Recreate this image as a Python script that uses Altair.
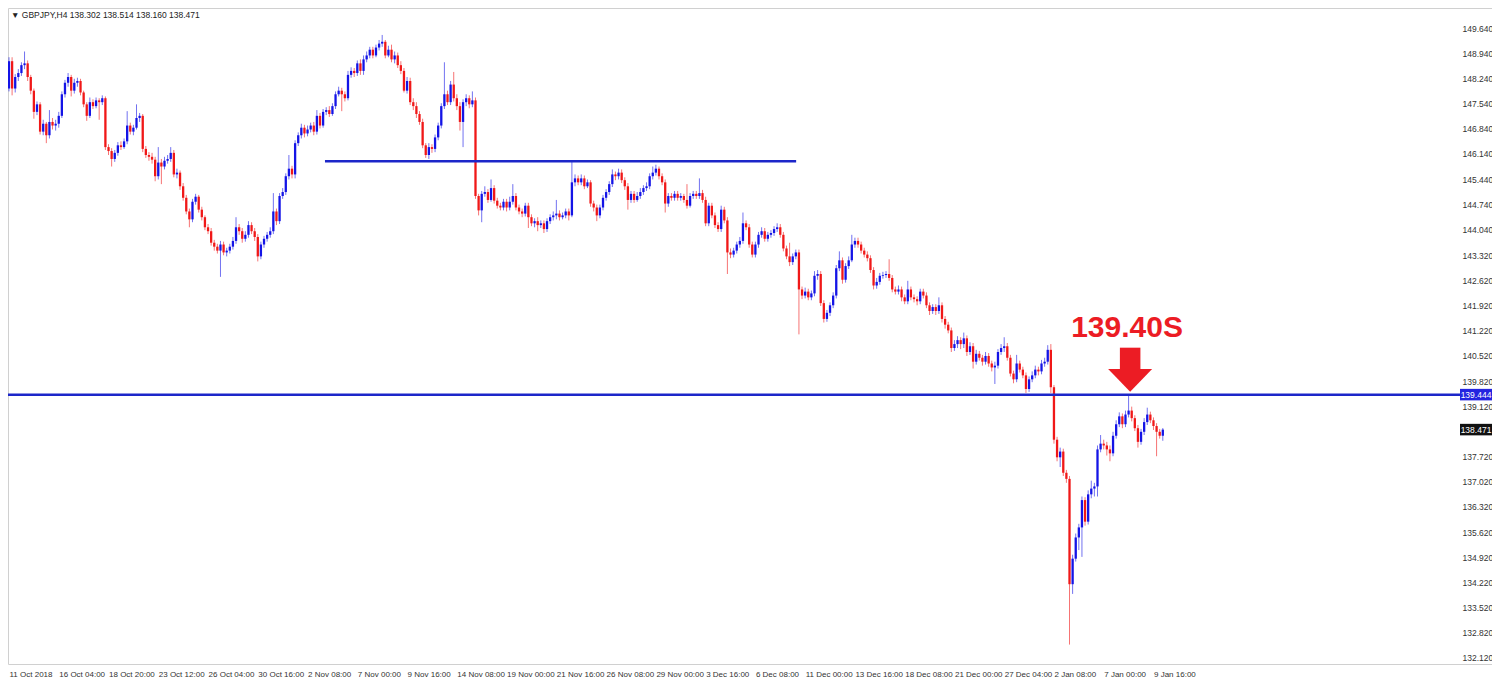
import altair as alt
import pandas as pd
import numpy as np

HEADER = "\u25BC GBPJPY,H4  138.302 138.514 138.160 138.471"
FIRST_OPEN = 147.96

CLOSES = [
148.72,147.96,148.28,148.39,148.61,148.66,148.28,147.90,147.31,147.52,
146.76,146.98,146.66,147.03,146.93,146.98,147.20,147.80,148.12,148.28,
147.90,148.12,148.17,147.85,147.52,147.20,147.58,147.47,147.63,147.58,
147.69,146.33,146.22,146.00,146.17,146.38,146.33,146.49,146.93,146.76,
146.87,147.14,147.20,146.28,146.11,146.06,145.98,145.52,145.90,145.79,
145.95,146.00,146.17,145.57,145.62,145.24,144.92,144.54,144.32,144.81,
144.95,144.59,144.38,144.10,143.99,143.67,143.56,143.45,143.62,143.40,
143.45,143.56,143.72,144.10,143.99,143.78,143.89,144.16,143.99,143.83,
143.29,143.62,143.78,143.89,143.99,144.54,144.27,144.97,145.08,145.52,
145.73,145.57,146.44,146.66,146.87,146.71,146.82,146.93,146.76,147.20,
146.93,147.31,147.36,147.25,147.47,147.80,147.90,147.80,147.69,148.34,
148.45,148.39,148.66,148.45,148.77,148.88,149.04,148.88,149.10,149.21,
149.26,148.88,149.04,148.77,148.88,148.61,148.45,147.90,148.17,147.58,
147.47,147.25,147.03,146.38,146.11,146.33,146.28,146.60,146.93,147.47,
147.80,147.58,148.07,147.69,147.47,147.03,147.58,147.69,147.52,147.63,
144.97,144.57,145.03,145.08,144.86,145.19,144.84,144.70,144.65,144.81,
144.65,144.81,144.97,144.65,144.54,144.48,144.70,144.38,144.21,144.27,
144.16,144.21,144.05,144.27,144.38,144.43,144.48,144.38,144.43,144.54,
144.43,145.35,145.46,145.35,145.46,145.24,145.35,144.76,144.65,144.43,
144.65,144.92,145.08,145.30,145.57,145.52,145.62,145.41,145.24,144.86,
145.03,144.86,144.97,145.08,145.19,145.24,145.52,145.62,145.73,145.52,
145.35,144.76,144.97,144.92,145.03,144.92,144.97,144.86,144.70,144.97,
145.03,144.97,145.05,144.86,144.21,144.70,144.43,144.16,144.05,144.59,
144.29,143.40,143.34,143.45,143.62,143.72,144.21,144.10,143.62,143.34,
143.62,143.89,143.99,143.78,143.89,143.94,144.05,144.10,143.89,143.51,
143.29,143.13,143.29,143.40,142.37,142.20,142.31,142.15,142.26,142.75,
142.80,141.99,141.55,141.72,141.93,142.20,142.96,143.18,142.64,143.02,
143.18,143.62,143.72,143.62,143.45,143.34,143.24,142.91,142.48,142.58,
142.75,142.77,142.80,142.69,142.37,142.31,142.37,142.15,142.04,142.37,
142.15,142.10,142.04,142.31,142.20,141.93,141.77,141.88,141.77,141.93,
141.55,141.39,141.23,140.74,140.85,140.96,140.85,141.01,140.63,140.79,
140.36,140.58,140.47,140.36,140.52,140.31,140.20,140.25,140.63,140.74,
140.79,140.47,140.03,139.87,140.31,140.14,139.98,139.60,139.87,139.98,
140.14,140.09,140.31,140.36,140.69,139.65,138.19,137.70,137.86,137.27,
137.10,134.17,134.88,135.47,135.75,136.51,135.91,136.67,136.83,136.89,
137.92,138.08,138.03,137.92,137.81,138.30,138.62,138.84,138.62,138.89,
139.00,138.79,138.51,138.13,138.41,138.68,138.89,138.73,138.57,138.41,
138.30,138.471]

HIGHS = [
148.83,148.83,148.36,148.50,148.69,148.99,148.74,148.34,147.96,147.60,
147.58,147.09,147.03,147.36,147.14,147.09,147.31,147.88,148.20,148.39,
148.34,148.23,148.26,148.23,147.90,147.58,147.71,147.66,147.71,147.69,
147.77,147.74,146.41,146.30,146.25,146.47,146.49,146.57,147.33,147.01,
146.95,147.52,147.28,147.25,146.36,146.19,146.17,146.06,146.33,146.00,
146.06,146.11,146.33,146.25,145.73,145.68,145.33,145.00,144.62,144.89,
145.03,145.00,144.67,144.43,144.19,144.08,143.75,143.64,143.72,143.70,
143.53,143.64,143.83,144.38,144.19,144.08,143.99,144.27,144.24,144.08,
143.91,143.70,143.86,143.97,144.10,145.05,144.62,145.05,145.19,145.60,
146.11,145.81,146.52,146.74,146.98,146.95,146.93,147.01,147.03,147.36,
147.28,147.39,147.44,147.47,147.55,147.88,148.01,147.98,147.88,148.45,
148.55,148.53,148.74,148.77,148.88,148.99,149.12,149.12,149.18,149.31,
149.45,149.31,149.15,149.18,148.99,148.96,148.72,148.53,148.28,148.26,
147.69,147.58,147.33,147.12,146.44,146.44,146.41,146.68,147.01,147.55,
148.69,147.90,148.17,148.42,147.80,147.58,147.66,147.80,147.77,147.88,
147.71,145.03,145.11,145.24,145.16,145.43,145.27,144.92,144.78,144.89,
144.89,144.95,145.30,145.05,144.73,144.62,144.78,144.78,144.46,144.35,
144.38,144.29,144.29,144.35,144.46,144.54,144.86,144.57,144.51,144.62,
144.62,145.92,145.57,145.54,145.57,145.54,145.43,145.41,144.84,144.73,
144.73,145.00,145.16,145.38,145.71,145.65,145.73,145.71,145.49,145.33,
145.11,145.11,145.08,145.19,145.27,145.35,145.60,145.79,145.84,145.79,
145.60,145.43,145.05,145.05,145.11,145.11,145.05,145.03,145.30,145.05,
145.11,145.11,145.46,145.14,144.95,144.78,144.78,144.51,144.24,144.70,
144.67,144.38,143.51,143.53,143.70,143.83,144.51,144.29,144.19,143.70,
143.70,143.97,144.10,144.08,143.97,144.02,144.13,144.21,144.19,143.97,
143.59,143.67,143.37,143.48,143.48,142.45,142.42,142.39,142.34,142.88,
142.91,142.88,142.07,141.80,142.01,142.29,143.05,143.43,143.26,143.10,
143.29,143.89,143.81,143.81,143.70,143.53,143.43,143.32,142.99,142.69,
142.83,142.86,142.88,143.21,142.77,142.45,142.48,142.45,142.23,142.61,
142.45,142.23,142.18,142.39,142.39,142.29,142.01,141.96,141.96,142.15,
142.01,141.63,141.47,141.31,140.96,141.07,141.04,141.17,141.09,140.90,
140.88,140.69,140.66,140.55,140.63,140.60,140.39,140.36,140.71,140.85,
141.04,140.88,140.55,140.11,140.55,140.39,140.22,140.06,139.95,140.09,
140.25,140.22,140.41,140.47,140.82,140.85,139.71,138.27,137.97,137.94,
137.35,137.18,134.99,135.58,135.85,136.61,136.59,136.78,137.05,136.99,
138.03,138.32,138.19,138.13,138.03,138.41,138.73,138.95,138.92,139.00,
139.46,139.11,138.87,138.60,138.49,138.79,139.08,138.97,138.81,138.65,
138.49,138.514]

LOWS = [
147.88,147.77,147.85,148.17,148.31,148.50,148.17,147.80,147.12,147.22,
146.68,146.66,146.44,146.57,146.82,146.79,146.87,147.14,147.71,148.01,
147.74,147.82,148.01,147.77,147.44,147.06,147.14,147.39,147.41,147.09,
147.50,146.25,146.11,145.79,145.92,146.09,146.25,146.28,146.41,146.68,
146.66,146.82,147.03,146.19,146.03,145.95,145.87,145.38,145.43,145.30,
145.71,145.87,145.92,145.49,145.46,145.14,144.84,144.46,144.10,144.24,
144.73,144.51,144.29,144.02,143.91,143.59,143.45,143.37,142.72,143.32,
143.29,143.37,143.48,143.64,143.89,143.67,143.70,143.81,143.91,143.72,
143.15,143.21,143.53,143.70,143.81,143.91,144.16,144.19,144.89,145.00,
145.43,145.46,145.46,146.36,146.57,146.60,146.63,146.74,146.66,146.68,
146.85,146.87,147.22,147.17,147.20,147.39,147.74,147.33,147.60,147.63,
148.26,148.28,148.31,148.34,148.34,148.69,148.80,148.80,148.83,149.02,
149.12,148.80,148.83,148.69,148.66,148.53,148.36,147.85,147.82,147.50,
147.36,147.14,146.95,146.30,146.03,146.00,146.17,146.19,146.52,146.85,
147.39,147.50,147.50,147.60,147.36,146.79,146.33,147.47,147.41,147.44,
144.89,144.43,144.24,144.95,144.78,144.81,144.76,144.62,144.57,144.57,
144.54,144.57,144.73,144.57,144.46,144.38,144.40,144.08,144.13,144.10,
143.99,144.08,143.94,143.97,144.19,144.29,144.32,144.29,144.32,144.35,
144.29,144.38,145.24,145.27,145.27,145.16,145.19,144.67,144.54,144.27,
144.35,144.57,144.84,145.00,145.22,145.41,145.43,145.33,145.14,144.59,
144.78,144.78,144.81,144.89,145.00,145.11,145.16,145.43,145.54,145.43,
145.27,144.51,144.67,144.84,144.84,144.84,144.84,144.78,144.62,144.65,
144.89,144.89,144.89,144.78,144.13,144.13,144.35,144.08,143.97,143.97,
144.21,142.80,143.24,143.26,143.37,143.53,143.64,144.02,143.53,143.26,
143.26,143.53,143.81,143.70,143.70,143.81,143.86,143.97,143.81,143.43,
143.21,143.02,143.05,143.21,141.12,142.10,142.12,142.07,142.07,142.18,
142.64,141.91,141.45,141.47,141.63,141.85,142.12,142.88,142.53,142.56,
142.94,143.13,143.53,143.53,143.37,143.26,143.15,142.83,142.37,142.39,
142.50,142.67,142.69,142.61,142.29,142.23,142.23,142.04,141.96,141.96,
142.07,142.01,141.93,141.96,142.12,141.85,141.66,141.69,141.66,141.69,
141.45,141.28,141.15,140.63,140.66,140.74,140.71,140.74,140.52,140.55,
140.17,140.28,140.39,140.25,140.28,140.22,140.09,139.74,140.17,140.55,
140.63,140.39,139.95,139.76,139.79,140.06,139.90,139.49,139.52,139.79,
139.90,139.98,140.01,140.22,140.28,139.49,138.08,137.59,137.43,137.18,
136.99,132.49,133.90,134.80,135.12,134.93,135.80,135.83,136.56,136.61,
136.61,137.84,137.92,137.75,137.59,137.73,138.22,138.54,138.51,138.54,
138.81,138.70,138.43,137.97,138.05,138.32,138.60,138.65,138.46,137.73,
138.22,138.160]

DATE_LABELS = [
    "11 Oct 2018", "16 Oct 04:00", "18 Oct 20:00", "23 Oct 12:00", "26 Oct 04:00",
    "30 Oct 16:00", "2 Nov 08:00", "7 Nov 00:00", "9 Nov 16:00", "14 Nov 08:00",
    "19 Nov 00:00", "21 Nov 16:00", "26 Nov 08:00", "29 Nov 00:00", "3 Dec 16:00",
    "6 Dec 08:00", "11 Dec 00:00", "13 Dec 16:00", "18 Dec 08:00", "21 Dec 00:00",
    "27 Dec 04:00", "2 Jan 08:00", "7 Jan 00:00", "9 Jan 16:00",
]
BARS_PER_LABEL = 16

PRICE_TICKS = [149.64, 148.94, 148.24, 147.54, 146.84, 146.14, 145.44, 144.74,
               144.04, 143.32, 142.62, 141.92, 141.22, 140.52, 139.82, 139.12,
               137.72, 137.02, 136.32, 135.62, 134.92, 134.22, 133.52, 132.82, 132.12]

# support line drawn across the November range
SUPPORT_LEVEL = [145.94]
SUPPORT_START = [101.6]
SUPPORT_END = [253.1]
# resistance line across the whole chart
RESIST_LEVEL = [139.444]
LAST_PRICE = [138.471]

NOTE_TEXT = ["139.40S"]
NOTE_X = [359.5]
NOTE_Y = [141.05]
ARROW_X = [360.5]
ARROW_X0 = [357.2]
ARROW_X1 = [363.8]
ARROW_TOP = [140.75]
ARROW_NECK = [140.15]
ARROW_HEAD_MID = [139.84]

RED = "#f01818"
BLUE = "#1414e6"
LINE_BLUE = "#1c26c9"
NOTE_RED = "#ec1c24"

n = min(len(CLOSES), len(HIGHS), len(LOWS))
closes = CLOSES[:n]
opens = [FIRST_OPEN] + closes[:-1]
df = pd.DataFrame({
    "idx": np.arange(n),
    "open": opens,
    "close": closes,
    "high": HIGHS[:n],
    "low": LOWS[:n],
})
df["dir"] = np.where(df["close"] >= df["open"], "up", "down")

W, H = 1484, 656
XDOM = [-0.32, 476.85]
YDOM = [131.95, 150.20]
PRICE_COL_X = W - 16  # centre of the price-tag boxes

label_arr = "[" + ",".join("'" + s + "'" for s in DATE_LABELS) + "]"
x_axis = alt.Axis(
    values=[BARS_PER_LABEL * k for k in range(len(DATE_LABELS))],
    tickCount=60,
    labelExpr=label_arr + "[round(datum.value / %d)]" % BARS_PER_LABEL,
    grid=False, ticks=False, domain=False, labelAlign="left", labelBaseline="top",
    labelPadding=6, labelFontSize=8, labelFont="Liberation Sans", labelColor="#333333",
    labelOverlap=False, labelFlush=False, title=None,
)
y_axis = alt.Axis(
    values=PRICE_TICKS, tickCount=60, format=".3f", orient="right", offset=-32,
    grid=False, ticks=False, domain=False, labelAlign="left", labelBaseline="middle",
    labelPadding=2, labelFontSize=8.5, labelFont="Liberation Sans", labelColor="#333333",
    labelOverlap=False, labelFlush=False, title=None,
)
xs = alt.Scale(domain=XDOM, nice=False, zero=False)
ys = alt.Scale(domain=YDOM, nice=False, zero=False)
color = alt.Color("dir:N", scale=alt.Scale(domain=["up", "down"], range=[BLUE, RED]), legend=None)

base = alt.Chart(df)
wicks = base.mark_rule(strokeWidth=1, opacity=0.6).encode(
    x=alt.X("idx:Q", scale=xs, axis=x_axis),
    y=alt.Y("low:Q", scale=ys, axis=y_axis),
    y2="high:Q",
    color=color,
)
bodies = base.mark_rule(strokeWidth=2.3).encode(
    x=alt.X("idx:Q", scale=xs),
    y=alt.Y("open:Q", scale=ys),
    y2="close:Q",
    color=color,
)

sup_df = pd.DataFrame({"level": SUPPORT_LEVEL, "x0": SUPPORT_START, "x1": SUPPORT_END})
support = alt.Chart(sup_df).mark_rule(color=LINE_BLUE, strokeWidth=2.5).encode(
    x=alt.X("x0:Q", scale=xs), x2="x1:Q", y=alt.Y("level:Q", scale=ys)
)
res_df = pd.DataFrame({"level": RESIST_LEVEL})
resist = alt.Chart(res_df).mark_rule(color=LINE_BLUE, strokeWidth=2.5).encode(
    x=alt.value(0), x2=alt.value(W - 32), y=alt.Y("level:Q", scale=ys)
)

note_df = pd.DataFrame({"t": NOTE_TEXT, "x": NOTE_X, "y": NOTE_Y})
note = alt.Chart(note_df).mark_text(
    font="Liberation Sans", fontSize=30, fontWeight="bold", color=NOTE_RED,
    align="center", baseline="alphabetic",
).encode(x=alt.X("x:Q", scale=xs), y=alt.Y("y:Q", scale=ys), text="t:N")

arrow_df = pd.DataFrame({"x": ARROW_X, "x0": ARROW_X0, "x1": ARROW_X1,
                         "top": ARROW_TOP, "neck": ARROW_NECK, "mid": ARROW_HEAD_MID})
shaft = alt.Chart(arrow_df).mark_rect(color=NOTE_RED).encode(
    x=alt.X("x0:Q", scale=xs), x2="x1:Q", y=alt.Y("top:Q", scale=ys), y2="neck:Q"
)
head = alt.Chart(arrow_df).mark_point(
    shape="M-1,-0.52L1,-0.52L0,0.52Z", size=1936, filled=True, opacity=1,
    color=NOTE_RED, strokeWidth=0,
).encode(x=alt.X("x:Q", scale=xs), y=alt.Y("mid:Q", scale=ys))

TAG_SHAPE = "M-1,-0.36L1,-0.36L1,0.36L-1,0.36Z"
lvl_df = pd.DataFrame({"price": RESIST_LEVEL, "label": ["%.3f" % v for v in RESIST_LEVEL]})
last_df = pd.DataFrame({"price": LAST_PRICE, "label": ["%.3f" % v for v in LAST_PRICE]})
lvl_box = alt.Chart(lvl_df).mark_point(
    shape=TAG_SHAPE, size=1024, filled=True, opacity=1, strokeWidth=0, color="#2424e0",
).encode(x=alt.value(PRICE_COL_X), y=alt.Y("price:Q", scale=ys))
last_box = alt.Chart(last_df).mark_point(
    shape=TAG_SHAPE, size=1024, filled=True, opacity=1, strokeWidth=0, color="#111111",
).encode(x=alt.value(PRICE_COL_X), y=alt.Y("price:Q", scale=ys))
lvl_text = alt.Chart(lvl_df).mark_text(
    font="Liberation Sans", fontSize=8.5, color="white", align="center", baseline="middle",
).encode(x=alt.value(PRICE_COL_X), y=alt.Y("price:Q", scale=ys), text="label:N")
last_text = alt.Chart(last_df).mark_text(
    font="Liberation Sans", fontSize=8.5, color="white", align="center", baseline="middle",
).encode(x=alt.value(PRICE_COL_X), y=alt.Y("price:Q", scale=ys), text="label:N")

header = alt.Chart(pd.DataFrame({"t": [HEADER]})).mark_text(
    font="Liberation Sans", fontSize=8.5, color="#222222", align="left", baseline="middle",
).encode(x=alt.value(3), y=alt.value(7), text="t:N")

chart = alt.layer(
    wicks, bodies, support, resist, shaft, head, note,
    lvl_box, last_box, lvl_text, last_text, header
).properties(
    width=W, height=H,
    padding={"left": 0, "top": 0, "right": 0, "bottom": 16},
    autosize=alt.AutoSizeParams(type="none"),
    background="white",
).configure_view(
    stroke="#d0d0d0", strokeWidth=1
).configure_axisY(
    labelOverlap=False
).configure_axisX(
    labelOverlap=False
)

chart.save("out.html", embed_options={"renderer": "svg", "actions": False})
